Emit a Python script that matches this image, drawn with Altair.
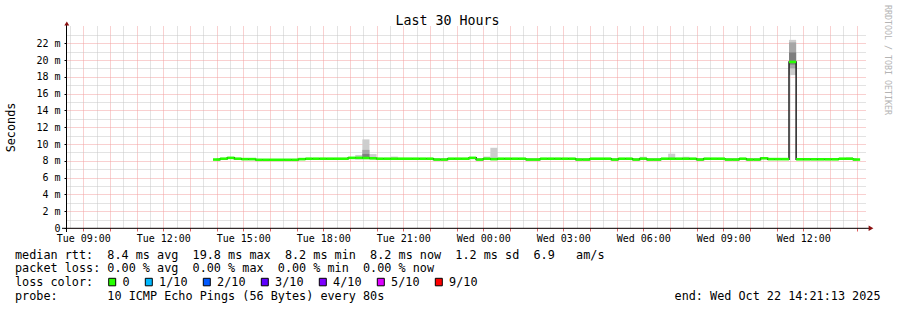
import altair as alt
import pandas as pd

MONO = "DejaVu Sans Mono"

# ---------------- data ----------------
window_start = "2025-10-21T08:21:13Z"
window_end = "2025-10-22T14:21:13Z"
first_bin = "2025-10-21T13:52:00Z"
bin_minutes = 16

# median rtt per 16-minute bin (ms)
median_ms = [
    8.15, 8.25, 8.35, 8.25, 8.2, 8.2, 8.12, 8.12, 8.12, 8.12,
    8.12, 8.12, 8.2, 8.25, 8.25, 8.25, 8.25, 8.25, 8.25, 8.35,
    8.35, 8.33, 8.3, 8.25, 8.25, 8.25, 8.25, 8.25, 8.25, 8.25,
    8.25, 8.15, 8.15, 8.25, 8.25, 8.25, 8.35, 8.15, 8.25, 8.2,
    8.25, 8.25, 8.25, 8.25, 8.15, 8.15, 8.25, 8.25, 8.25, 8.25,
    8.25, 8.15, 8.15, 8.25, 8.25, 8.25, 8.15, 8.25, 8.25, 8.15,
    8.25, 8.15, 8.15, 8.25, 8.25, 8.25, 8.25, 8.25, 8.15, 8.25,
    8.25, 8.25, 8.15, 8.15, 8.25, 8.15, 8.15, 8.3, 8.2, 8.2,
    8.2, 19.77, 8.18, 8.18, 8.18, 8.18, 8.18, 8.18, 8.25, 8.25,
    8.15,
]

# smoke (spread of the individual pings) for bins where it is visible
smoke_bins = [20, 21, 22, 25, 38, 39, 60, 64, 66, 81, 89]
smoke_lo = [8.15, 8.2, 8.15, 8.15, 8.15, 8.15, 8.15, 8.15, 8.15, 18.2, 8.15]
smoke_hi = [8.7, 10.55, 8.8, 8.5, 8.5, 9.55, 8.48, 8.85, 8.48, 22.4, 8.4]
smoke_mid_bins = [21, 81]
smoke_mid_lo = [8.3, 19.0]
smoke_mid_hi = [9.3, 22.1]
smoke_dark_bins = [21, 81]
smoke_dark_lo = [8.35, 19.45]
smoke_dark_hi = [8.8, 20.9]

title_text = "Last 30 Hours"
y_title = "Seconds"
credit = "RRDTOOL / TOBI OETIKER"
rtt_values = ["8.4", "19.8", "8.2", "8.2", "1.2"]
rtt_names = ["avg", "max", "min", "now", "sd"]
am_per_s = "6.9"
loss_values = ["0.00", "0.00", "0.00", "0.00"]
loss_names = ["avg", "max", "min", "now"]
loss_labels = ["0", "1/10", "2/10", "3/10", "4/10", "5/10", "9/10"]
loss_colors = ["#26ff00", "#00b8ff", "#0059ff", "#5e00ff", "#7e00ff", "#dd00ff", "#ff0000"]
probe_text = "10 ICMP Echo Pings (56 Bytes) every 80s"
end_text = "end: Wed Oct 22 14:21:13 2025"

# ---------------- tables ----------------
def iso(ts):
    return ts.strftime("%Y-%m-%dT%H:%M:%SZ")

b0 = pd.Timestamp(first_bin)
step = pd.Timedelta(minutes=bin_minutes)
rows = []
for i, v in enumerate(median_ms):
    t0 = b0 + i * step
    rows.append({"t0": iso(t0), "t1": iso(t0 + step), "tc": iso(t0 + step / 2), "median": v})
line_df = pd.DataFrame(rows)


def smoke_frame(bins, lo, hi):
    out = []
    for b, l, h in zip(bins, lo, hi):
        t0 = b0 + b * step
        out.append({"t0": iso(t0), "t1": iso(t0 + step), "lo": l, "hi": h})
    return pd.DataFrame(out)


smoke_df = smoke_frame(smoke_bins, smoke_lo, smoke_hi)
smoke_mid_df = smoke_frame(smoke_mid_bins, smoke_mid_lo, smoke_mid_hi)
smoke_dark_df = smoke_frame(smoke_dark_bins, smoke_dark_lo, smoke_dark_hi)

# ---------------- scales / axes ----------------
def ms(ts):
    return int(pd.Timestamp(ts).value // 10**6)

XSCALE = alt.Scale(type="utc", domain=[ms(window_start), ms(window_end)], nice=False)
YSCALE = alt.Scale(domain=[0, 24.05], nice=False, zero=True)

RED = "#f2a0a0"
GRAY = "#c6c6c6"

x_ticks = [ms(t) for t in pd.date_range("2025-10-21 08:30", "2025-10-22 14:00", freq="30min", tz="UTC")]

XAXIS = alt.Axis(
    values=x_ticks,
    labelExpr="utcminutes(datum.value) == 0 && utchours(datum.value) % 3 == 0 ? utcFormat(datum.value, '%a %H:%M') : ''",
    grid=True,
    gridColor={"condition": {"test": "utcminutes(datum.value) == 0", "value": RED}, "value": GRAY},
    gridDash=[1, 1],
    gridWidth=1,
    ticks=True,
    tickColor={"condition": {"test": "utcminutes(datum.value) == 0", "value": "#e06060"}, "value": "transparent"},
    tickSize=3,
    domain=False,
    labelFont=MONO,
    labelFontSize=10,
    labelColor="#000000",
    labelPadding=2,
    labelBaseline="top",
    labelOverlap=False,
    labelFlush=False,
    title=None,
)

YAXIS = alt.Axis(
    values=list(range(24)),
    labelExpr="datum.value % 2 == 0 ? (datum.value == 0 ? '0' : datum.value + ' m') : ''",
    grid=True,
    gridColor={"condition": {"test": "datum.value % 2 == 0", "value": RED}, "value": GRAY},
    gridDash=[1, 1],
    gridWidth=1,
    ticks=True,
    tickColor={"condition": {"test": "datum.value % 2 == 0", "value": "#000000"}, "value": "transparent"},
    tickSize=2,
    domain=False,
    labelFont=MONO,
    labelFontSize=10,
    labelColor="#000000",
    labelPadding=4,
    labelOverlap=False,
    labelFlush=False,
    title=None,
)


def X(field):
    return alt.X(f"{field}:T", scale=XSCALE, axis=XAXIS)


def Y(field):
    return alt.Y(f"{field}:Q", scale=YSCALE, axis=YAXIS)


# ---------------- data layers ----------------
smoke_outer = alt.Chart(smoke_df).mark_rect(color="#cdcdcd").encode(
    x=X("t0"), x2="t1", y=Y("lo"), y2="hi")
smoke_mid = alt.Chart(smoke_mid_df).mark_rect(color="#a6a6a6").encode(
    x=X("t0"), x2="t1", y=Y("lo"), y2="hi")
smoke_dark = alt.Chart(smoke_dark_df).mark_rect(color="#7e7e7e").encode(
    x=X("t0"), x2="t1", y=Y("lo"), y2="hi")

median_black = alt.Chart(line_df).mark_line(
    interpolate="step", color="#202020", strokeWidth=1.5).encode(
    x=X("tc"), y=Y("median"))

median_green = alt.Chart(line_df).mark_rule(
    color=loss_colors[0], strokeWidth=2.6).encode(
    x=X("t0"), x2="t1", y=Y("median"))

# ---------------- chrome ----------------
one = alt.Data(values=[{"k": 0}])


def text(s, x, y, size=11.8, align="left", baseline="alphabetic", angle=0, color="#000000"):
    return alt.Chart(one).mark_text(
        text=s.replace(" ", "\u00a0"), font=MONO, fontSize=size, align=align,
        baseline=baseline, angle=angle, color=color).encode(
        x=alt.value(x), y=alt.value(y))


x_axis_line = alt.Chart(one).mark_rule(color="#000000", strokeWidth=1).encode(
    x=alt.value(-4), x2=alt.value(803), y=alt.value(202.3))
y_axis_line = alt.Chart(one).mark_rule(color="#000000", strokeWidth=1).encode(
    x=alt.value(0.5), y=alt.value(-2), y2=alt.value(206))
x_arrow = alt.Chart(one).mark_point(shape="triangle-right", filled=True, color="#8b1010",
                                    size=30, opacity=1).encode(
    x=alt.value(805), y=alt.value(202.3))
y_arrow = alt.Chart(one).mark_point(shape="triangle-up", filled=True, color="#8b1010",
                                    size=24, opacity=1).encode(
    x=alt.value(0.8), y=alt.value(-2.5))

line1 = "median rtt:  " + "  ".join(f"{v} ms {n}" for v, n in zip(rtt_values, rtt_names)) \
    + "  " + am_per_s + "   am/s"
line2 = "packet loss: " + "  ".join(f"{v} % {n}" for v, n in zip(loss_values, loss_names))
line3 = "loss color:"
line4 = "probe:       " + probe_text

texts = [
    text(title_text, 381.5, -1.5, size=13.3, align="center"),
    text(y_title, -51, 101.5, align="center", angle=270),
    text(credit, 819, 34, size=8.3, align="center", angle=90, color="#b4b4b4"),
    text(line1, -51, 232.5),
    text(line2, -51, 246.3),
    text(line3, -51, 260),
    text(line4, -51, 273.8),
    text(end_text, 814.5, 273.8, align="right"),
]

swatches = []
for i, (lab, col) in enumerate(zip(loss_labels, loss_colors)):
    sx = 42.7 if i == 0 else 79.3 + 58 * (i - 1)
    swatches.append(
        alt.Chart(one).mark_rect(fill=col, stroke="#000000", strokeWidth=1).encode(
            x=alt.value(sx), x2=alt.value(sx + 7), y=alt.value(252.3), y2=alt.value(259.8)))
    swatches.append(text(lab, sx + 13.8, 260))

chart = alt.layer(
    smoke_outer, smoke_mid, smoke_dark, median_black, median_green,
    x_axis_line, y_axis_line, x_arrow, y_arrow, *texts, *swatches,
).properties(
    width=800, height=202,
    padding={"left": 66, "top": 26, "right": 31, "bottom": 82},
    autosize=alt.AutoSizeParams(type="none"),
    background="#ffffff",
).configure_view(stroke=None)

chart.save("out.html", embed_options={"renderer": "svg", "actions": False})
